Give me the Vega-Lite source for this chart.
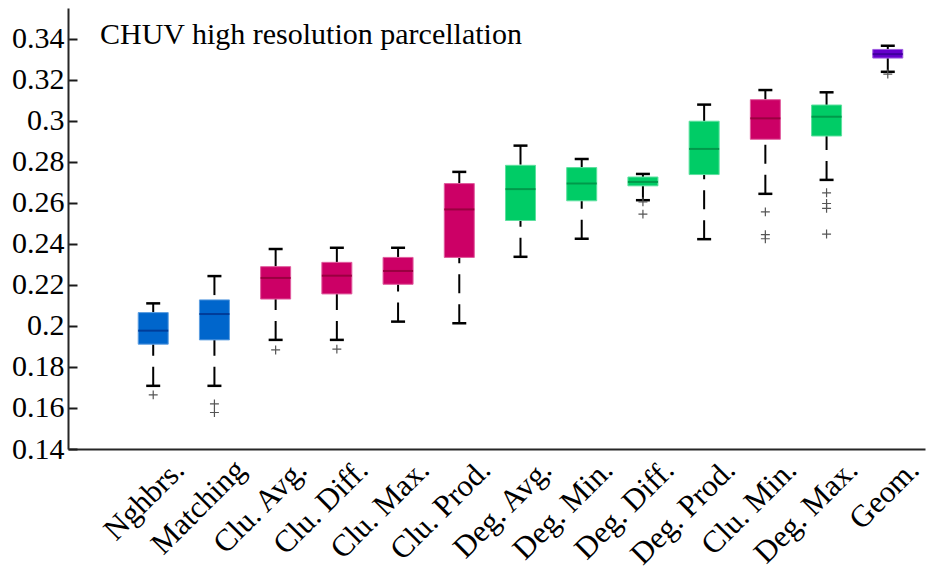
{
  "$schema": "https://vega.github.io/schema/vega-lite/v6.json",
  "width": 857,
  "height": 441,
  "autosize": {"type": "none"},
  "padding": {"left": 68, "top": 8, "right": 2, "bottom": 125},
  "background": "white",
  "config": {"view": {"stroke": null}},
  "title": {
    "text": "CHUV high resolution parcellation",
    "anchor": "start",
    "frame": "group",
    "orient": "top",
    "font": "Liberation Serif",
    "fontSize": 30,
    "fontWeight": "normal",
    "color": "#000000",
    "dx": 32,
    "dy": 46
  },
  "datasets": {
    "boxes": [
      {"name": "Nghbrs.", "group": "A", "lo": 0.1708, "q1": 0.1911, "median": 0.1977, "q3": 0.2065, "hi": 0.2110},
      {"name": "Matching", "group": "A", "lo": 0.1708, "q1": 0.1932, "median": 0.2058, "q3": 0.2127, "hi": 0.2243},
      {"name": "Clu. Avg.", "group": "B", "lo": 0.1932, "q1": 0.2131, "median": 0.2234, "q3": 0.2289, "hi": 0.2375},
      {"name": "Clu. Diff.", "group": "B", "lo": 0.1932, "q1": 0.2156, "median": 0.2245, "q3": 0.2310, "hi": 0.2381},
      {"name": "Clu. Max.", "group": "B", "lo": 0.2021, "q1": 0.2203, "median": 0.2268, "q3": 0.2334, "hi": 0.2381},
      {"name": "Clu. Prod.", "group": "B", "lo": 0.2013, "q1": 0.2334, "median": 0.2568, "q3": 0.2694, "hi": 0.2751},
      {"name": "Deg. Avg.", "group": "C", "lo": 0.2337, "q1": 0.2514, "median": 0.2667, "q3": 0.2783, "hi": 0.2879},
      {"name": "Deg. Min.", "group": "C", "lo": 0.2425, "q1": 0.2610, "median": 0.2694, "q3": 0.2772, "hi": 0.2814},
      {"name": "Deg. Diff.", "group": "C", "lo": 0.2613, "q1": 0.2683, "median": 0.2702, "q3": 0.2726, "hi": 0.2741},
      {"name": "Deg. Prod.", "group": "C", "lo": 0.2423, "q1": 0.2738, "median": 0.2863, "q3": 0.2998, "hi": 0.3079},
      {"name": "Clu. Min.", "group": "B", "lo": 0.2644, "q1": 0.2910, "median": 0.3012, "q3": 0.3103, "hi": 0.3150},
      {"name": "Deg. Max.", "group": "C", "lo": 0.2712, "q1": 0.2926, "median": 0.3020, "q3": 0.3077, "hi": 0.3139},
      {"name": "Geom.", "group": "D", "lo": 0.3239, "q1": 0.3306, "median": 0.3325, "q3": 0.3348, "hi": 0.3366}
    ],
    "outliers": [
      {"name": "Nghbrs.", "value": 0.1664},
      {"name": "Matching", "value": 0.1620},
      {"name": "Matching", "value": 0.1578},
      {"name": "Clu. Avg.", "value": 0.1883},
      {"name": "Clu. Diff.", "value": 0.1887},
      {"name": "Deg. Diff.", "value": 0.2605},
      {"name": "Deg. Diff.", "value": 0.2545},
      {"name": "Clu. Min.", "value": 0.2556},
      {"name": "Clu. Min.", "value": 0.2445},
      {"name": "Clu. Min.", "value": 0.2425},
      {"name": "Deg. Max.", "value": 0.2649},
      {"name": "Deg. Max.", "value": 0.2597},
      {"name": "Deg. Max.", "value": 0.2573},
      {"name": "Deg. Max.", "value": 0.2448},
      {"name": "Geom.", "value": 0.3228}
    ]
  },
  "encoding": {
    "x": {
      "field": "name",
      "type": "nominal",
      "sort": ["Nghbrs.", "Matching", "Clu. Avg.", "Clu. Diff.", "Clu. Max.", "Clu. Prod.", "Deg. Avg.", "Deg. Min.", "Deg. Diff.", "Deg. Prod.", "Clu. Min.", "Deg. Max.", "Geom."],
      "scale": {"type": "point", "padding": 1.118, "align": 0.696},
      "axis": {
        "title": null,
        "ticks": false,
        "domainColor": "#262626",
        "domainWidth": 2,
        "labelFont": "Liberation Serif",
        "labelFontSize": 31,
        "labelColor": "#000000",
        "labelAngle": -45,
        "labelAlign": "right",
        "labelBaseline": "middle",
        "labelPadding": 16,
        "labelOffset": 26,
        "labelOverlap": false,
        "labelBound": false
      }
    }
  },
  "layer": [
    {
      "data": {"name": "boxes"},
      "mark": {"type": "rule", "color": "#000000", "strokeWidth": 2, "strokeDash": [19, 11]},
      "encoding": {
        "y": {
          "field": "lo",
          "type": "quantitative",
          "scale": {"domain": [0.14, 0.355], "nice": false, "zero": false},
          "axis": {
            "title": null,
            "values": [0.14, 0.16, 0.18, 0.2, 0.22, 0.24, 0.26, 0.28, 0.3, 0.32, 0.34],
            "format": "~g",
            "grid": false,
            "tickSize": -9,
            "tickWidth": 2,
            "tickColor": "#1a1a1a",
            "domainColor": "#262626",
            "domainWidth": 2,
            "labelFont": "Liberation Serif",
            "labelFontSize": 30,
            "labelColor": "#000000",
            "labelPadding": 13,
            "labelBaseline": "middle"
          }
        },
        "y2": {"field": "q1"}
      }
    },
    {
      "data": {"name": "boxes"},
      "mark": {"type": "rule", "color": "#000000", "strokeWidth": 2, "strokeDash": [19, 11]},
      "encoding": {
        "y": {"field": "hi", "type": "quantitative"},
        "y2": {"field": "q3"}
      }
    },
    {
      "data": {"name": "boxes"},
      "mark": {"type": "tick", "color": "#000000", "size": 14, "thickness": 2.5, "orient": "horizontal", "opacity": 1},
      "encoding": {"y": {"field": "lo", "type": "quantitative"}}
    },
    {
      "data": {"name": "boxes"},
      "mark": {"type": "tick", "color": "#000000", "size": 14, "thickness": 2.5, "orient": "horizontal", "opacity": 1},
      "encoding": {"y": {"field": "hi", "type": "quantitative"}}
    },
    {
      "data": {"name": "boxes"},
      "mark": {"type": "bar", "size": 30, "strokeWidth": 1, "fillOpacity": 1},
      "encoding": {
        "y": {"field": "q1", "type": "quantitative"},
        "y2": {"field": "q3"},
        "fill": {
          "field": "group",
          "type": "nominal",
          "scale": {"domain": ["A", "B", "C", "D"], "range": ["#0066cc", "#cc0066", "#00cc66", "#6600cc"]},
          "legend": null
        },
        "stroke": {
          "field": "group",
          "type": "nominal",
          "scale": {"domain": ["A", "B", "C", "D"], "range": ["#5c9ee0", "#e05c9e", "#5ce09e", "#9e5ce0"]},
          "legend": null
        }
      }
    },
    {
      "data": {"name": "boxes"},
      "mark": {"type": "tick", "size": 30, "thickness": 2, "orient": "horizontal", "opacity": 1},
      "encoding": {
        "y": {"field": "median", "type": "quantitative"},
        "color": {
          "field": "group",
          "type": "nominal",
          "scale": {"domain": ["A", "B", "C", "D"], "range": ["#003d99", "#990040", "#00994a", "#40009e"]},
          "legend": null
        }
      }
    },
    {
      "data": {"name": "outliers"},
      "mark": {"type": "point", "shape": "M-1,0L1,0M0,-1L0,1", "size": 80, "stroke": "#555555", "strokeWidth": 1.2, "filled": false, "opacity": 1},
      "encoding": {"y": {"field": "value", "type": "quantitative"}}
    }
  ]
}
